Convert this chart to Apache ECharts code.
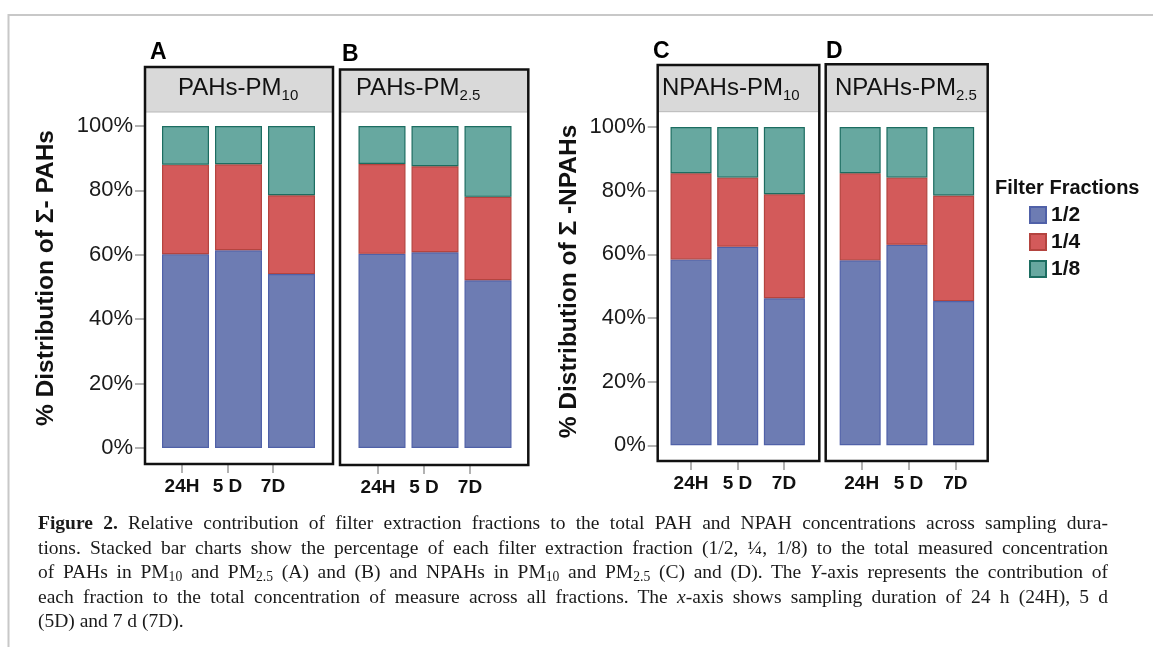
<!DOCTYPE html>
<html>
<head>
<meta charset="utf-8">
<script src="https://cdn.jsdelivr.net/npm/echarts@6/dist/echarts.min.js"></script>
<style>
  html, body { margin: 0; padding: 0; background: #fff; }
  #wrap { position: relative; width: 1153px; height: 647px; overflow: hidden; }
  #chart { position: absolute; left: 0; top: 0; width: 1153px; height: 647px; }
  #caption {
    position: absolute; left: 38px; top: 511px; width: 1070px;
    font-family: 'Liberation Serif', 'DejaVu Serif', serif; font-size: 19.5px;
    line-height: 24.5px; color: #1a1a1a;
  }
  #caption div { text-align: justify; text-align-last: justify; height: 24.5px; }
  #caption div.last { text-align-last: left; }
  #caption sub { font-size: 0.7em; vertical-align: baseline; position: relative; top: 0.25em; line-height: 0; }
</style>
</head>
<body>
<div id="wrap">
  <div id="chart"></div>
  <div id="caption">
    <div><b>Figure 2.</b> Relative contribution of filter extraction fractions to the total PAH and NPAH concentrations across sampling dura-</div>
    <div>tions. Stacked bar charts show the percentage of each filter extraction fraction (1/2, ¼, 1/8) to the total measured concentration</div>
    <div>of PAHs in PM<sub>10</sub> and PM<sub>2.5</sub> (A) and (B) and NPAHs in PM<sub>10</sub> and PM<sub>2.5</sub> (C) and (D). The <i>Y</i>-axis represents the contribution of</div>
    <div>each fraction to the total concentration of measure across all fractions. The <i>x</i>-axis shows sampling duration of 24 h (24H), 5 d</div>
    <div class="last">(5D) and 7 d (7D).</div>
  </div>
</div>
<script>
// sampling durations and filter fractions
const durations = ['24H', '5 D', '7D'];
const fractions = ['1/2', '1/4', '1/8'];

// % share of each fraction, rows = 1/2, 1/4, 1/8 ; cols = 24H, 5 D, 7D
const pahsPm10 = [[60.2, 61.4, 54.0], [27.8, 26.7, 24.5], [12.0, 11.9, 21.5]];
const pahsPm25 = [[60.3, 60.8, 52.1], [27.9, 26.7, 25.9], [11.8, 12.5, 22.0]];
const npahsPm10 = [[58.4, 62.4, 46.2], [27.1, 21.7, 32.7], [14.5, 15.9, 21.1]];
const npahsPm25 = [[58.1, 63.0, 45.3], [27.4, 21.1, 33.2], [14.5, 15.9, 21.5]];

const fillColors = ['#6d7cb3', '#d35a5a', '#67a8a0'];
const borderColors = ['#5061a8', '#b4443f', '#1c6d61'];
const FONT = "'Liberation Sans', Arial, sans-serif";

// panel layout (pixels)
const panels = [
  { letter: 'A', letterX: 150, letterY: 53, data: pahsPm10, main: 'PAHs-PM', sub: '10', textX: 178,
    box: [145, 67, 188, 397], stripBottom: 112,
    plot: { left: 159, top: 126, width: 159, height: 322 }, barWidth: 47, yOffset: 14, showY: true,
    ticks: { left: 159.25, width: 136.5 } },
  { letter: 'B', letterX: 342, letterY: 55, data: pahsPm25, main: 'PAHs-PM', sub: '2.5', textX: 356,
    box: [340, 69.5, 188.3, 395.5], stripBottom: 112,
    plot: { left: 355.5, top: 126, width: 159, height: 322 }, barWidth: 47, yOffset: 0, showY: false,
    ticks: { left: 355, width: 138 } },
  { letter: 'C', letterX: 653, letterY: 52, data: npahsPm10, main: 'NPAHs-PM', sub: '10', textX: 662,
    box: [657.7, 65, 161.6, 396], stripBottom: 111.7,
    plot: { left: 667.7, top: 127, width: 140, height: 318.3 }, barWidth: 41, yOffset: 10, showY: true,
    ticks: { left: 667.75, width: 139.5 } },
  { letter: 'D', letterX: 826, letterY: 52, data: npahsPm25, main: 'NPAHs-PM', sub: '2.5', textX: 835,
    box: [825.7, 64.3, 162, 396.7], stripBottom: 111.7,
    plot: { left: 836.8, top: 127, width: 140.2, height: 318.3 }, barWidth: 41, yOffset: 0, showY: false,
    ticks: { left: 838.3, width: 140.4 } }
];

const grid = [], xAxis = [], yAxis = [], series = [], graphic = [];

// outer light frame
graphic.push({ type: 'polyline', shape: { points: [[8.5, 647], [8.5, 15], [1153, 15]] },
  style: { stroke: '#c8c8c8', lineWidth: 2, fill: null }, z: 1 });

panels.forEach((p, i) => {
  grid.push({ left: p.plot.left, top: p.plot.top, width: p.plot.width, height: p.plot.height });
  xAxis.push({ type: 'category', gridIndex: i, data: durations, show: false });
  yAxis.push({
    type: 'value', gridIndex: i, min: 0, max: 100, interval: 20, show: p.showY, offset: p.yOffset,
    axisLine: { show: false },
    axisTick: { show: true, length: 10, lineStyle: { color: '#999', width: 1.5 } },
    axisLabel: { formatter: '{value}%', fontSize: 22, color: '#1a1a1a', margin: 12, fontFamily: FONT },
    splitLine: { show: false }
  });
  fractions.forEach((f, k) => {
    series.push({
      type: 'bar', name: f, stack: 'p' + i, xAxisIndex: i, yAxisIndex: i,
      barWidth: p.barWidth, data: p.data[k],
      itemStyle: { color: fillColors[k], borderColor: borderColors[k], borderWidth: 1.2 },
      emphasis: { disabled: true }
    });
  });

  // strip + box
  const [bx, by, bw, bh] = p.box;
  graphic.push({ type: 'rect', shape: { x: bx, y: by, width: bw, height: p.stripBottom - by },
    style: { fill: '#d9d9d9' }, z: 2 });
  graphic.push({ type: 'line', shape: { x1: bx, y1: p.stripBottom, x2: bx + bw, y2: p.stripBottom },
    style: { stroke: '#b8b8b8', lineWidth: 1 }, z: 3 });
  graphic.push({ type: 'rect', shape: { x: bx, y: by, width: bw, height: bh },
    style: { fill: null, stroke: '#111', lineWidth: 2.5 }, z: 100 });
  graphic.push({ type: 'text', x: p.textX, y: 88, z: 5,
    style: { text: '{m|' + p.main + '}{s|' + p.sub + '}', verticalAlign: 'middle',
      rich: {
        m: { fontSize: 24, fontFamily: FONT, fill: '#111', lineHeight: 30, verticalAlign: 'middle' },
        s: { fontSize: 15, fontFamily: FONT, fill: '#111', lineHeight: 30, verticalAlign: 'bottom' }
      } } });
  graphic.push({ type: 'text', x: p.letterX, y: p.letterY, z: 5,
    style: { text: p.letter, font: 'bold 23px ' + FONT, fill: '#000', verticalAlign: 'middle' } });
});

// duration label axes under each box
panels.forEach((p, i) => {
  const boxBottom = p.box[1] + p.box[3];
  grid.push({ left: p.ticks.left, width: p.ticks.width, top: boxBottom - 20, height: 20 });
  xAxis.push({
    type: 'category', gridIndex: 4 + i, data: durations, position: 'bottom',
    axisLine: { show: false },
    axisTick: { show: true, alignWithLabel: true, length: 9, lineStyle: { color: '#999', width: 1.5 } },
    axisLabel: { fontSize: 19, fontWeight: 'bold', color: '#111', margin: 13, fontFamily: FONT }
  });
  yAxis.push({ type: 'value', gridIndex: 4 + i, show: false });
});

// y axis titles
graphic.push({ type: 'text', x: 46, y: 278, rotation: Math.PI / 2, z: 5,
  style: { text: '% Distribution of Σ- PAHs', font: 'bold 24.5px ' + FONT, fill: '#111',
    align: 'center', verticalAlign: 'middle' } });
graphic.push({ type: 'text', x: 569, y: 281.5, rotation: Math.PI / 2, z: 5,
  style: { text: '% Distribution of Σ -NPAHs', font: 'bold 24.5px ' + FONT, fill: '#111',
    align: 'center', verticalAlign: 'middle' } });
// legend title
graphic.push({ type: 'text', x: 995, y: 188, z: 5,
  style: { text: 'Filter Fractions', font: 'bold 20px ' + FONT, fill: '#111', verticalAlign: 'middle' } });

const chart = echarts.init(document.getElementById('chart'));
chart.setOption({
  animation: false,
  backgroundColor: '#fff',
  textStyle: { fontFamily: FONT },
  grid: grid,
  xAxis: xAxis,
  yAxis: yAxis,
  legend: {
    data: fractions, orient: 'vertical', left: 1029, top: 204.5, padding: 0,
    icon: 'rect', itemWidth: 16, itemHeight: 16, itemGap: 6,
    textStyle: { fontSize: 21, fontWeight: 'bold', color: '#111', lineHeight: 21, fontFamily: FONT },
    selectedMode: false
  },
  series: series,
  graphic: graphic
});
</script>
</body>
</html>
